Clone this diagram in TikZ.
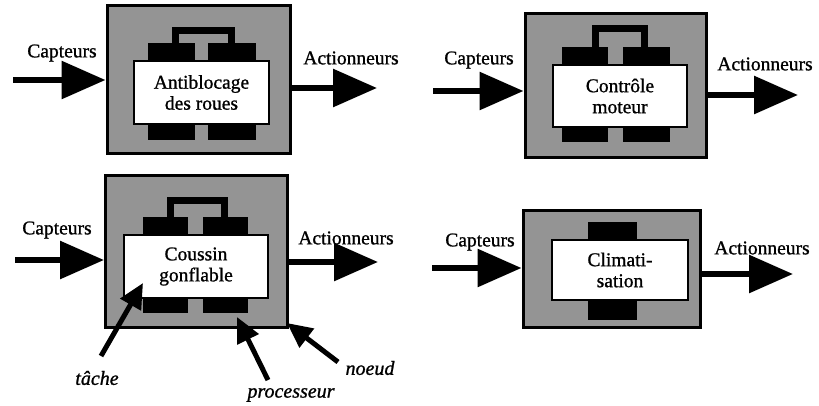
\documentclass[tikz,border=0pt]{standalone}
\usepackage{fontspec}
\setmainfont[FakeBold=1]{Liberation Serif}
\usetikzlibrary{arrows.meta}

\tikzset{
  base/.style={font=\fontsize{19.5}{21}\selectfont},
  nodebox/.style={draw=black, line width=3pt, fill=black!42, inner sep=0pt},
  taskbox/.style={draw=black, line width=2.2pt, fill=white, inner sep=0pt, align=center, base},
  proc/.style={fill=black, draw=none, inner sep=0pt},
  bridge/.style={draw=black, line width=7pt},
  bigarrow/.style={line width=6pt, -{Triangle[length=44pt,width=37pt]}},
  pointer/.style={line width=5pt, -{Triangle[length=25pt,width=23pt]}},
  lbl/.style={base, inner sep=0pt},
  ilbl/.style={font=\fontsize{20}{22}\selectfont\itshape, inner sep=0pt}
}

\begin{document}
\begin{tikzpicture}[x=1pt, y=-1pt]
\useasboundingbox (0,0) rectangle (819,405);

% ---------- ABS unit ----------
\node[nodebox, minimum width=183pt, minimum height=148pt] (n1) at (198.5,79) {};
\draw[bridge] (175.5,48) -- (175.5,30.5) -- (231.5,30.5) -- (231.5,48);
\node[proc, minimum width=47pt, minimum height=21pt] (p1a) at (171.5,53.5) {};
\node[proc, minimum width=48pt, minimum height=21pt] (p1b) at (232,53.5) {};
\node[proc, minimum width=47pt, minimum height=20pt] (p1c) at (171.5,130) {};
\node[proc, minimum width=48pt, minimum height=20pt] (p1d) at (232,130) {};
\node[taskbox, minimum width=135pt, minimum height=63pt] (t1) at (201.5,92.5) {Antiblocage\\des roues};
\coordinate (i1) at (13,80);
\coordinate (o1) at (377,88);
\draw[bigarrow] (i1) -- (n1.west |- i1);
\draw[bigarrow] (n1.east |- o1) -- (o1);
\node[lbl] (c1) at (62,53) {Capteurs};
\node[lbl] (a1) at (351,58) {Actionneurs};

% ---------- engine control unit ----------
\node[nodebox, minimum width=181pt, minimum height=144pt] (n2) at (615.5,85) {};
\draw[bridge] (595.5,52) -- (595.5,28.5) -- (644.5,28.5) -- (644.5,52);
\node[proc, minimum width=46pt, minimum height=21pt] (p2a) at (585,57.5) {};
\node[proc, minimum width=47pt, minimum height=21pt] (p2b) at (646.5,57.5) {};
\node[proc, minimum width=46pt, minimum height=18pt] (p2c) at (585,133) {};
\node[proc, minimum width=47pt, minimum height=18pt] (p2d) at (646.5,133) {};
\node[taskbox, minimum width=134pt, minimum height=62pt] (t2) at (620,96) {Contrôle\\moteur};
\coordinate (i2) at (433,91);
\coordinate (o2) at (798,95);
\draw[bigarrow] (i2) -- (n2.west |- i2);
\draw[bigarrow] (n2.east |- o2) -- (o2);
\node[lbl] (c2) at (479,60) {Capteurs};
\node[lbl] (a2) at (765,64) {Actionneurs};

% ---------- airbag unit ----------
\node[nodebox, minimum width=182pt, minimum height=152pt] (n3) at (196.5,251) {};
\draw[bridge] (170.5,222) -- (170.5,200.5) -- (224.5,200.5) -- (224.5,222);
\node[proc, minimum width=45pt, minimum height=21pt] (p3a) at (165.5,227.5) {};
\node[proc, minimum width=45pt, minimum height=21pt] (p3b) at (225.5,227.5) {};
\node[proc, minimum width=45pt, minimum height=19pt] (p3c) at (165.5,303.5) {};
\node[proc, minimum width=45pt, minimum height=19pt] (p3d) at (225.5,303.5) {};
\node[taskbox, minimum width=144pt, minimum height=63pt] (t3) at (196,266.5) {Coussin\\gonflable};
\coordinate (i3) at (15,260);
\coordinate (o3) at (378,262);
\draw[bigarrow] (i3) -- (n3.west |- i3);
\draw[bigarrow] (n3.east |- o3) -- (o3);
\node[lbl] (c3) at (57,230) {Capteurs};
\node[lbl] (a3) at (346,238) {Actionneurs};

% ---------- air conditioning unit ----------
\node[nodebox, minimum width=177pt, minimum height=117pt] (n4) at (611.5,268.5) {};
\node[proc, minimum width=49pt, minimum height=21pt] (p4a) at (612.5,232.5) {};
\node[proc, minimum width=49pt, minimum height=23pt] (p4b) at (612.5,308.5) {};
\node[taskbox, minimum width=136pt, minimum height=60pt] (t4) at (620,270) {Climati-\\sation};
\coordinate (i4) at (432,268);
\coordinate (o4) at (793,274);
\draw[bigarrow] (i4) -- (n4.west |- i4);
\draw[bigarrow] (n4.east |- o4) -- (o4);
\node[lbl] (c4) at (480,242) {Capteurs};
\node[lbl] (a4) at (762,248) {Actionneurs};

% ---------- legend pointers ----------
\node[ilbl] (lt) at (97,378) {tâche};
\node[ilbl] (lp) at (291,395) {processeur};
\node[ilbl] (ln) at (370,368) {noeud};
\coordinate (st) at (101,356);
\coordinate (tt) at (143,283);
\coordinate (sp) at (268,380);
\coordinate (tp) at (237,317);
\coordinate (sn) at (338,362);
\coordinate (tn) at (287,323);
\draw[pointer] (st) -- (tt);
\draw[pointer] (sp) -- (tp);
\draw[pointer] (sn) -- (tn);
\end{tikzpicture}
\end{document}
